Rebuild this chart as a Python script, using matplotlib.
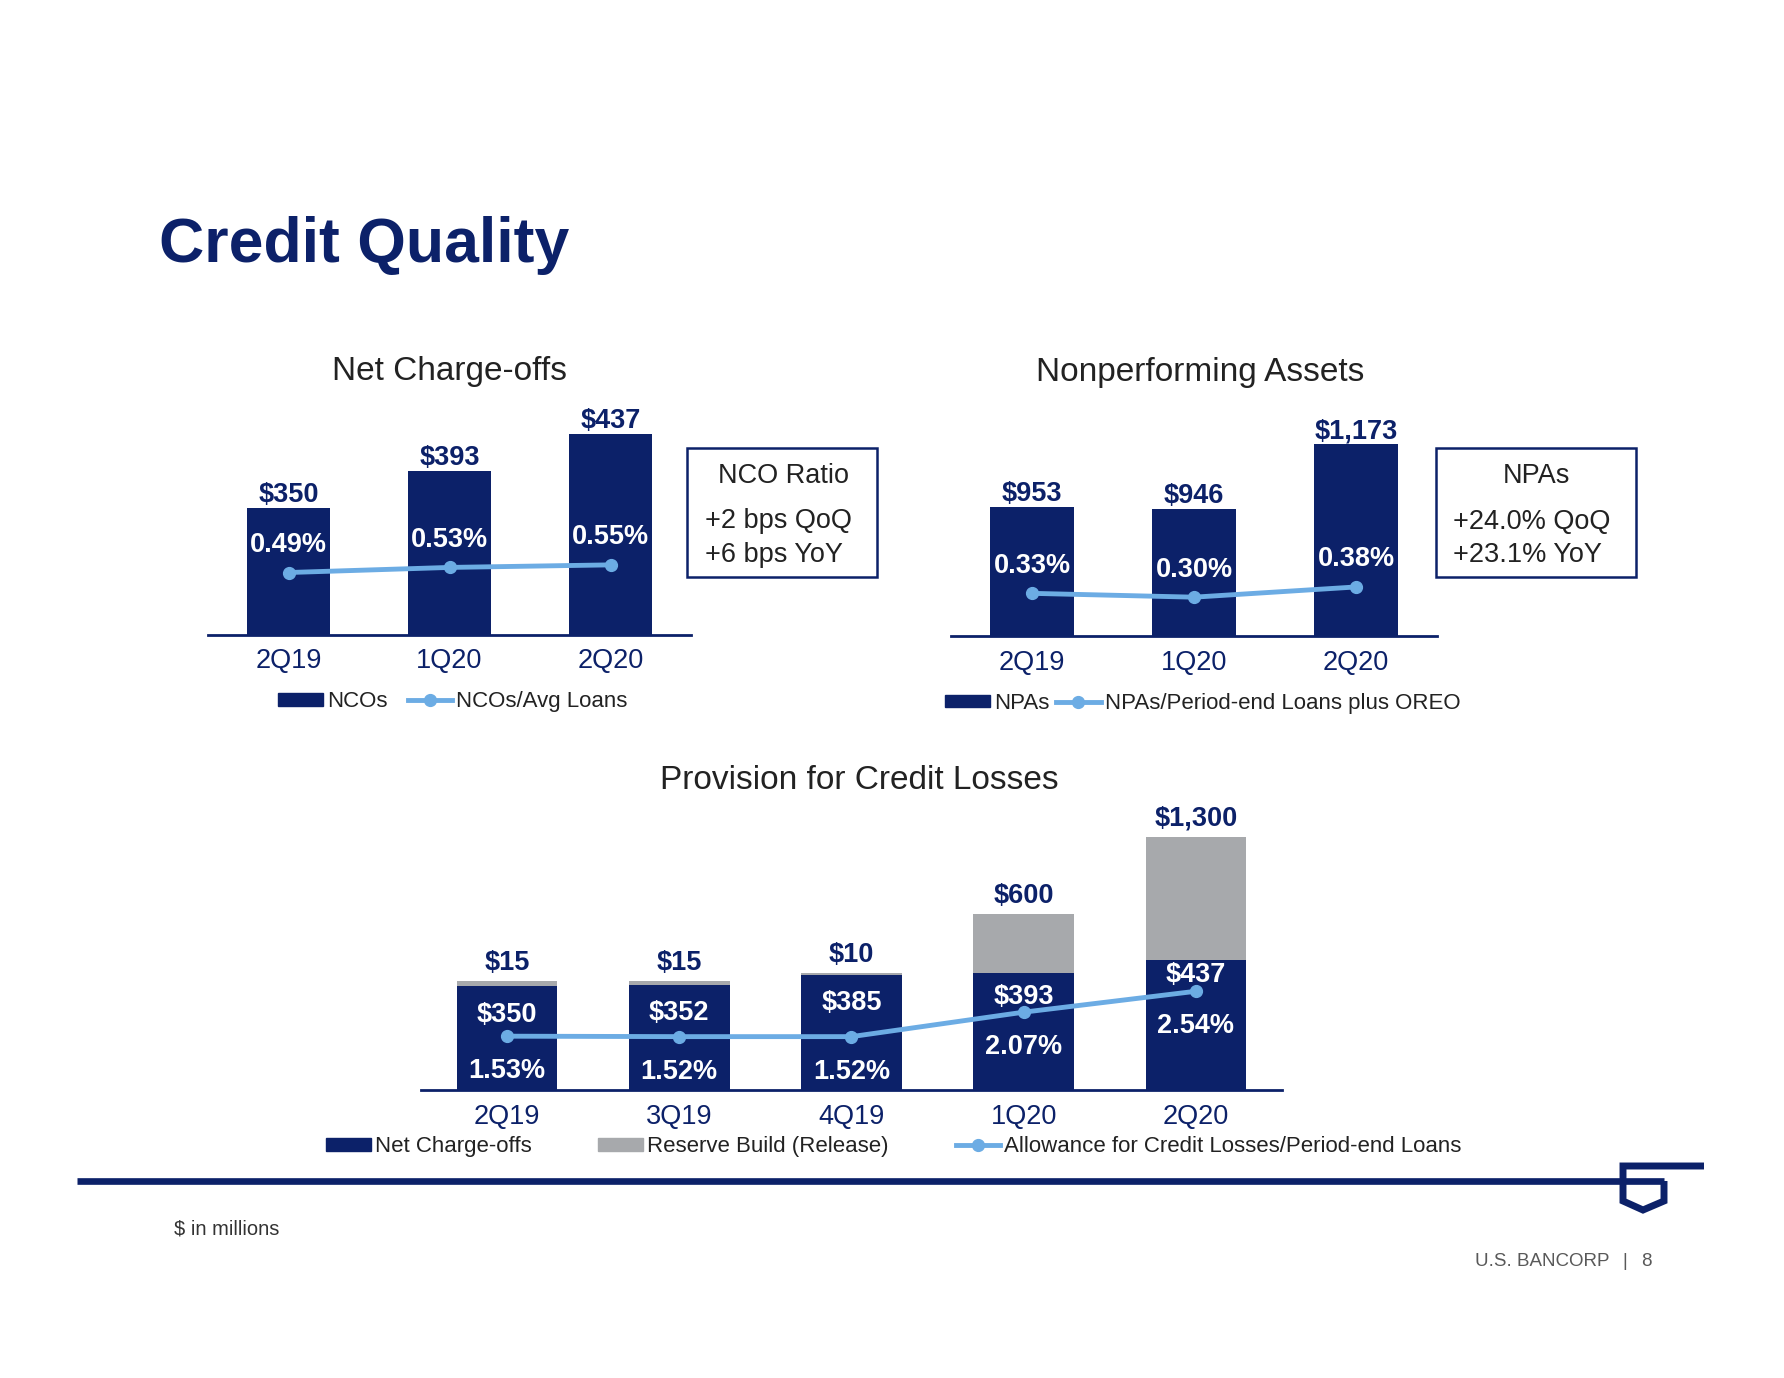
import matplotlib
matplotlib.use('Agg')
import matplotlib.pyplot as plt
from matplotlib.patches import Rectangle, Patch
from matplotlib.lines import Line2D
from matplotlib import font_manager

# --- data ($ in millions) ---
nco_quarters = ['2Q19', '1Q20', '2Q20']
nco_values = [350, 393, 437]
nco_ratio = [0.49, 0.53, 0.55]

npa_quarters = ['2Q19', '1Q20', '2Q20']
npa_values = [953, 946, 1173]
npa_ratio = [0.33, 0.30, 0.38]

prov_quarters = ['2Q19', '3Q19', '4Q19', '1Q20', '2Q20']
prov_nco = [350, 352, 385, 393, 437]
reserve_build = [15, 15, 10, 600, 1300]
# the slide draws the two big reserve builds compressed, these are the heights as drawn
reserve_drawn = [15, 15, 10, 200, 415]
acl_ratio = [1.53, 1.52, 1.52, 2.07, 2.54]

NAVY = '#0c2169'
GRAY = '#a7a9ac'
LBLUE = '#6cace4'
DARK = '#222222'

W, H = 1784, 1378
plt.rcParams['font.family'] = ['Liberation Sans', 'DejaVu Sans']
names = {f.name for f in font_manager.fontManager.ttflist}
narrow = 'Liberation Sans Narrow' if 'Liberation Sans Narrow' in names else 'Liberation Sans'
foot_size = 15 if narrow == 'Liberation Sans Narrow' else 13.5

fig = plt.figure(figsize=(W / 100, H / 100), dpi=100)


def px_axes(x0, y0, x1, y1):
    return fig.add_axes([x0 / W, 1 - y1 / H, (x1 - x0) / W, (y1 - y0) / H])


def pt(p):
    # pixels -> points at dpi 100
    return p * 0.72


def base_axis(ax, cats, pad):
    for s in ['top', 'right', 'left']:
        ax.spines[s].set_visible(False)
    ax.spines['bottom'].set_color(NAVY)
    ax.spines['bottom'].set_linewidth(2)
    ax.set_yticks([])
    ax.set_xticks(range(len(cats)))
    ax.set_xticklabels(cats, fontsize=19.5, color=NAVY)
    ax.tick_params(axis='x', length=0, pad=pad)
    plt.setp(ax.get_xticklabels(), va='baseline')
    ax.set_xlim(-0.5, len(cats) - 0.5)


def small_chart(box, cats, vals, ratios, ylim, pad):
    ax = px_axes(*box)
    x = list(range(len(cats)))
    ax.bar(x, vals, width=0.52, color=NAVY, zorder=2)
    ax.set_ylim(*ylim)
    base_axis(ax, cats, pad)
    for i, v in enumerate(vals):
        ax.annotate(f'${v:,}', (i, v), xytext=(0, pt(5.5)), textcoords='offset points',
                    ha='center', va='baseline', fontsize=19.5, fontweight='bold', color=NAVY)
    ax2 = ax.twinx()
    ax2.plot(x, ratios, color=LBLUE, lw=3.5, marker='o', ms=8.5)
    ax2.set_ylim(0, 2)
    ax2.axis('off')
    for i, r in enumerate(ratios):
        ax2.annotate(f'{r:.2f}%', (i, r), xytext=(0, pt(20.5)), textcoords='offset points',
                     ha='center', va='baseline', fontsize=19.5, fontweight='bold', color='white')
    return ax


small_chart((208, 380, 691, 635), nco_quarters, nco_values, nco_ratio, (200, 500), 24)
small_chart((951, 380, 1437, 635.5), npa_quarters, npa_values, npa_ratio, (500, 1400), 24.8)

# --- provision chart ---
ax3 = px_axes(421, 800, 1282, 1090)
x3 = list(range(len(prov_quarters)))
ax3.bar(x3, prov_nco, width=0.585, color=NAVY, zorder=2)
ax3.bar(x3, reserve_drawn, bottom=prov_nco, width=0.585, color=GRAY, zorder=2)
ax3.set_ylim(0, 975)
base_axis(ax3, prov_quarters, 24.5)
nco_lbl_dy = [36, 35, 35, 31, 22]
for i in x3:
    top = prov_nco[i] + reserve_drawn[i]
    ax3.annotate(f'${reserve_build[i]:,}', (i, top), xytext=(0, pt(11)), textcoords='offset points',
                 ha='center', va='baseline', fontsize=19.5, fontweight='bold', color=NAVY)
    ax3.annotate(f'${prov_nco[i]:,}', (i, prov_nco[i]), xytext=(0, -pt(nco_lbl_dy[i])),
                 textcoords='offset points', ha='center', va='baseline',
                 fontsize=19.5, fontweight='bold', color='white', zorder=5)
ax3b = ax3.twinx()
ax3b.plot(x3, acl_ratio, color=LBLUE, lw=3.5, marker='o', ms=8.5)
ax3b.set_ylim(0.32, 6.84)
ax3b.axis('off')
for i, r in enumerate(acl_ratio):
    ax3b.annotate(f'{r:.2f}%', (i, r), xytext=(0, -pt(42)), textcoords='offset points',
                  ha='center', va='baseline', fontsize=19.5, fontweight='bold', color='white')

# --- legends ---
line_h = Line2D([], [], color=LBLUE, lw=3.5, marker='o', ms=8.5)
leg_kw = dict(loc='center', frameon=False, fontsize=16, handlelength=2, handleheight=0.5,
              handletextpad=0.2, labelcolor=DARK, borderpad=0, borderaxespad=0)
fig.legend([Patch(color=NAVY), line_h], ['NCOs', 'NCOs/Avg Loans'], ncol=2, columnspacing=0.9,
           bbox_to_anchor=(453 / W, 1 - 701.7 / H), **leg_kw)
fig.legend([Patch(color=NAVY), line_h], ['NPAs', 'NPAs/Period-end Loans plus OREO'], ncol=2,
           columnspacing=0.3, bbox_to_anchor=(1203 / W, 1 - 703.3 / H), **leg_kw)
fig.legend([Patch(color=NAVY), Patch(color=GRAY), line_h],
           ['Net Charge-offs', 'Reserve Build (Release)', 'Allowance for Credit Losses/Period-end Loans'],
           ncol=3, columnspacing=3.0, bbox_to_anchor=(894 / W, 1 - 1146.7 / H), **leg_kw)

# --- slide furniture in pixel coordinates ---
ov = fig.add_axes([0, 0, 1, 1])
ov.set_xlim(0, W)
ov.set_ylim(H, 0)
ov.axis('off')

ov.text(159, 261.7, 'Credit Quality', fontsize=45, fontweight='bold', color=NAVY, va='baseline')
ov.text(449, 380, 'Net Charge-offs', fontsize=24, color=DARK, ha='center', va='baseline')
ov.text(1200, 380.5, 'Nonperforming Assets', fontsize=24, color=DARK, ha='center', va='baseline')
ov.text(859, 789, 'Provision for Credit Losses', fontsize=24, color=DARK, ha='center', va='baseline')

ov.add_patch(Rectangle((687, 448), 190, 129, fill=False, ec=NAVY, lw=1.8))
ov.text(783, 483.3, 'NCO Ratio', fontsize=19.5, color=DARK, ha='center', va='baseline')
ov.text(705, 528.3, '+2 bps QoQ', fontsize=19.5, color=DARK, va='baseline')
ov.text(705, 561.7, '+6 bps YoY', fontsize=19.5, color=DARK, va='baseline')

ov.add_patch(Rectangle((1436, 448), 200, 129, fill=False, ec=NAVY, lw=1.8))
ov.text(1536, 483.3, 'NPAs', fontsize=19.5, color=DARK, ha='center', va='baseline')
ov.text(1453, 529, '+24.0% QoQ', fontsize=19.5, color=DARK, va='baseline')
ov.text(1453, 561.7, '+23.1% YoY', fontsize=19.5, color=DARK, va='baseline')

# rule + logo
ov.plot([77, 1664], [1181, 1181], color=NAVY, lw=4.8, solid_capstyle='butt')
ov.plot([1704, 1623, 1623, 1643, 1664, 1664], [1166, 1166, 1201, 1210, 1201, 1181],
        color=NAVY, lw=5, solid_joinstyle='miter', solid_capstyle='butt')

ov.text(174, 1234, '$ in millions', fontsize=14.5, color='#333333', va='baseline')
ov.text(1475, 1266, 'U.S. BANCORP', family=narrow, fontsize=foot_size, color='#595959', va='baseline')
ov.text(1625, 1266, '|', family=narrow, fontsize=foot_size, color='#595959', ha='center', va='baseline')
ov.text(1646, 1266, '8', family=narrow, fontsize=foot_size, color='#595959', ha='center', va='baseline')

fig.savefig('out.png', dpi=100)
